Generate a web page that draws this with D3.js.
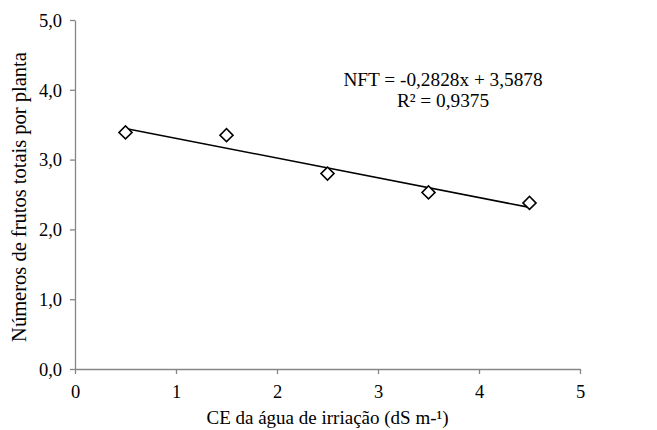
<!DOCTYPE html>
<html>
<head>
<meta charset="utf-8">
<script src="https://cdn.jsdelivr.net/npm/d3@7"></script>
</head>
<body style="margin:0;background:#fff">
<svg width="657" height="430"></svg>
<script>
const svg=d3.select('svg');
const width=+svg.attr('width');
const height=+svg.attr('height');
const margin={top:20,right:77,bottom:61,left:75};

// data
const ceValues=[0.5,1.5,2.5,3.5,4.5];
const nftValues=[3.39,3.35,2.80,2.53,2.38];
const xTicks=[0,1,2,3,4,5];
const yTicks=[0,1,2,3,4,5];
const slope=-0.2828, intercept=3.5878;
const eqLines=['NFT = -0,2828x + 3,5878','R² = 0,9375'];

// serif font straight on every text node
const serif=(sel,size)=>sel.attr('font-family','Liberation Serif').attr('font-size',size).attr('fill','#000');

const x=d3.scaleLinear().domain([0,5]).range([margin.left,width-margin.right]);
const y=d3.scaleLinear().domain([0,5]).range([height-margin.bottom,margin.top]);
const fmt=d=>d3.format('.1f')(d).replace('.',',');

// axes
const gx=svg.append('g')
  .attr('transform',`translate(0,${y(0)})`)
  .call(d3.axisBottom(x).tickValues(xTicks).tickFormat(d3.format('d')).tickSize(5).tickSizeOuter(0));
const gy=svg.append('g')
  .attr('transform',`translate(${x(0)},0)`)
  .call(d3.axisLeft(y).tickValues(yTicks).tickFormat(fmt).tickSize(5).tickSizeOuter(0));
[gx,gy].forEach(g=>{
  g.select('.domain').attr('stroke','#868686').attr('stroke-width',1.3);
  g.selectAll('.tick line').attr('stroke','#868686').attr('stroke-width',1.3);
  g.selectAll('.tick text').call(serif,18.5);
});
gx.selectAll('.tick text').attr('y',29).attr('dy',0);
gy.selectAll('.tick text').attr('x',-13).attr('dy','0.34em');

// trend line
const xs=d3.extent(ceValues);
svg.append('line')
  .attr('x1',x(xs[0])).attr('y1',y(slope*xs[0]+intercept))
  .attr('x2',x(xs[1])).attr('y2',y(slope*xs[1]+intercept))
  .attr('stroke','#000').attr('stroke-width',1.6);

// markers
svg.selectAll('path.pt')
  .data(ceValues.map((d,i)=>[d,nftValues[i]]))
  .enter().append('path')
  .attr('class','pt')
  .attr('d',d3.symbol().type(d3.symbolSquare).size(85))
  .attr('transform',d=>`translate(${x(d[0])},${y(d[1])}) rotate(45)`)
  .attr('fill','#fff').attr('stroke','#000').attr('stroke-width',1.6);

// equation
svg.selectAll('text.eq')
  .data(eqLines).enter().append('text')
  .attr('class','eq')
  .attr('x',443).attr('y',(d,i)=>86+i*21)
  .attr('text-anchor','middle')
  .call(serif,19.3)
  .text(d=>d);

// axis titles
svg.append('text')
  .attr('x',(x(0)+x(5))/2).attr('y',424)
  .attr('text-anchor','middle')
  .call(serif,19)
  .text('CE da água de irriação (dS m-¹)');
svg.append('text')
  .attr('transform',`translate(26,197) rotate(-90)`)
  .attr('text-anchor','middle')
  .call(serif,20.5)
  .text('Números de frutos totais por planta');
</script>
</body>
</html>
